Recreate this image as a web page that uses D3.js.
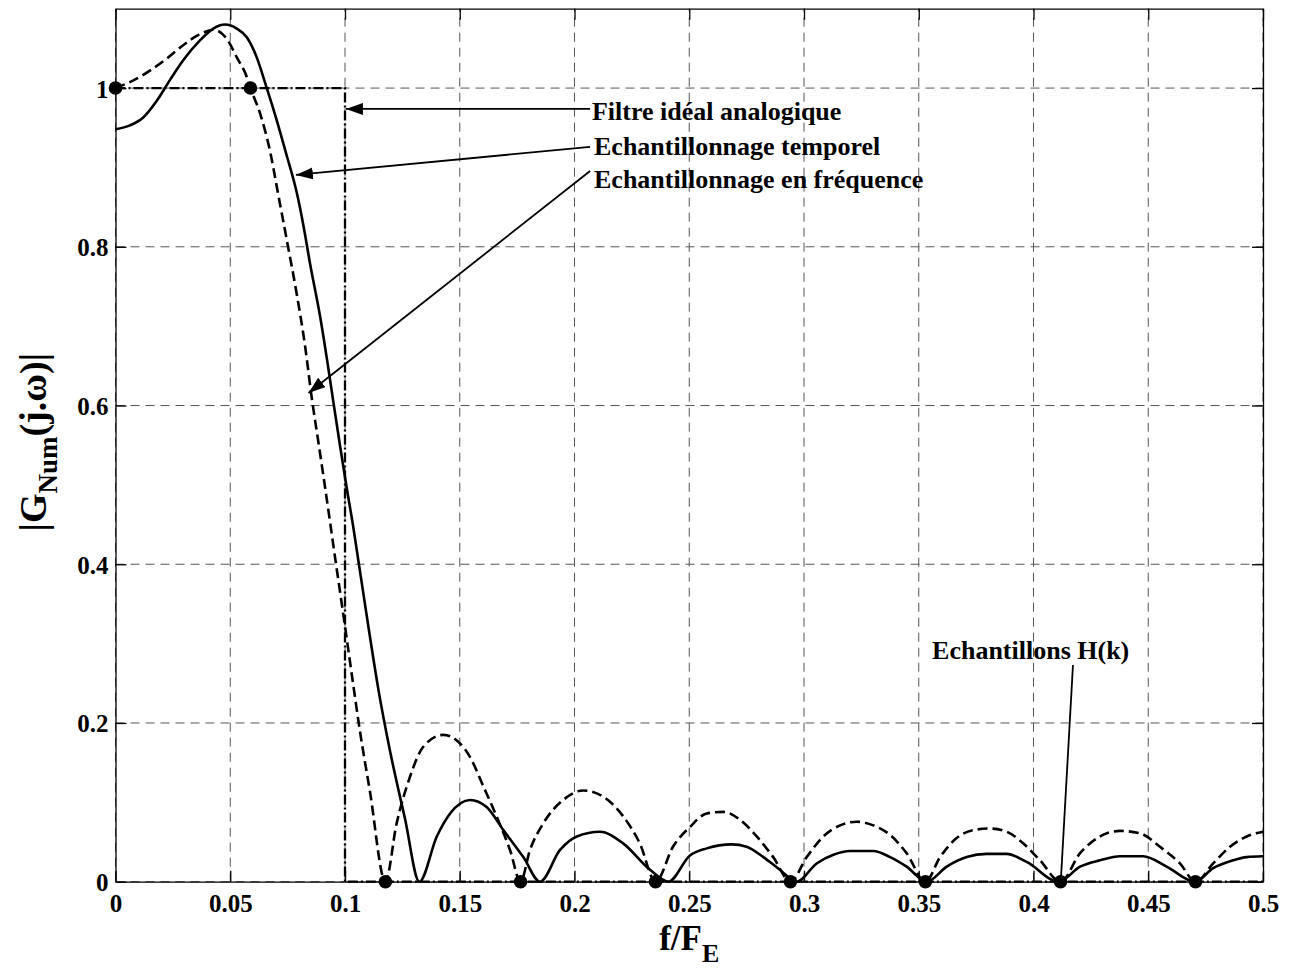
<!DOCTYPE html>
<html><head><meta charset="utf-8">
<script src="https://cdn.jsdelivr.net/npm/d3@7"></script>
<style>body{margin:0;background:#fff} svg{display:block}</style>
</head><body>
<svg id="chart" width="1294" height="972"></svg>
<script>
// ---- data ----
const xTicks = [0, 0.05, 0.1, 0.15, 0.2, 0.25, 0.3, 0.35, 0.4, 0.45, 0.5];
const yTicks = [0, 0.2, 0.4, 0.6, 0.8, 1];

// "Echantillonnage temporel" (solid)
const freqTemporel = [0, 0.0063, 0.0121, 0.0180, 0.0237, 0.0295, 0.0368, 0.0426, 0.0477, 0.0528, 0.0572, 0.0615, 0.0659, 0.0702, 0.0746, 0.0790, 0.0820, 0.0847, 0.0891, 0.0920, 0.0949, 0.0978, 0.1007, 0.1036, 0.1058, 0.1100, 0.1145, 0.1196, 0.1261, 0.1324, 0.1400, 0.1458, 0.1545, 0.1617, 0.1690, 0.1777, 0.1850, 0.1937, 0.2010, 0.2111, 0.2213, 0.2329, 0.2409, 0.2503, 0.2576, 0.2685, 0.2750, 0.2823, 0.2895, 0.2968, 0.3055, 0.3128, 0.3200, 0.3302, 0.3375, 0.3447, 0.3535, 0.3622, 0.3709, 0.3796, 0.3883, 0.3970, 0.4110, 0.4203, 0.4290, 0.4377, 0.4478, 0.4580, 0.4704, 0.4783, 0.4870, 0.4929, 0.5000];
const gainTemporel = [0.948, 0.953, 0.963, 0.984, 1.010, 1.035, 1.060, 1.075, 1.080, 1.075, 1.064, 1.039, 1.000, 0.960, 0.915, 0.868, 0.825, 0.780, 0.713, 0.661, 0.605, 0.550, 0.497, 0.447, 0.405, 0.325, 0.243, 0.165, 0.080, 0, 0.057, 0.086, 0.103, 0.094, 0.065, 0.031, 0, 0.040, 0.057, 0.063, 0.048, 0.015, 0, 0.033, 0.042, 0.047, 0.044, 0.031, 0.015, 0, 0.023, 0.034, 0.0387, 0.0387, 0.031, 0.019, 0, 0.019, 0.031, 0.035, 0.035, 0.025, 0, 0.019, 0.027, 0.032, 0.032, 0.019, 0, 0.017, 0.027, 0.031, 0.032];

// "Echantillonnage en fréquence" (dashed)
const freqFrequence = [0, 0.0078, 0.0150, 0.0223, 0.0295, 0.0368, 0.0426, 0.0485, 0.0528, 0.0572, 0.0588, 0.0630, 0.0673, 0.0709, 0.0750, 0.0790, 0.0826, 0.0855, 0.0884, 0.0905, 0.0935, 0.0956, 0.0973, 0.0996, 0.1035, 0.1065, 0.1108, 0.1176, 0.1225, 0.1283, 0.1341, 0.1428, 0.1487, 0.1545, 0.1603, 0.1661, 0.1719, 0.1765, 0.1806, 0.1864, 0.1951, 0.2038, 0.2126, 0.2213, 0.2285, 0.2353, 0.2431, 0.2503, 0.2576, 0.2648, 0.2721, 0.2794, 0.2866, 0.2941, 0.3012, 0.3084, 0.3157, 0.3230, 0.3302, 0.3375, 0.3447, 0.3529, 0.3593, 0.3665, 0.3738, 0.3810, 0.3883, 0.3956, 0.4028, 0.4118, 0.4203, 0.4290, 0.4377, 0.4464, 0.4551, 0.4638, 0.4706, 0.4783, 0.4856, 0.4929, 0.5000];
const gainFrequence = [1.000, 1.0097, 1.022, 1.037, 1.054, 1.068, 1.0735, 1.062, 1.039, 1.014, 1.000, 0.968, 0.921, 0.866, 0.803, 0.740, 0.675, 0.610, 0.554, 0.513, 0.453, 0.410, 0.376, 0.330, 0.250, 0.190, 0.115, 0, 0.0735, 0.132, 0.170, 0.185, 0.178, 0.157, 0.120, 0.082, 0.040, 0, 0.040, 0.0735, 0.103, 0.115, 0.107, 0.082, 0.048, 0, 0.045, 0.069, 0.086, 0.088, 0.078, 0.057, 0.031, 0, 0.031, 0.057, 0.071, 0.0756, 0.071, 0.059, 0.036, 0, 0.031, 0.055, 0.065, 0.067, 0.063, 0.048, 0.027, 0, 0.036, 0.057, 0.064, 0.061, 0.044, 0.023, 0, 0.023, 0.044, 0.057, 0.063];

// "Filtre idéal analogique" (dash-dot)
const idealF = [0, 0.1, 0.1, 0.5];
const idealG = [1, 1, 0, 0];

// "Echantillons H(k)"
const sampleF = [0, 0.0588, 0.1176, 0.1765, 0.2353, 0.2941, 0.3529, 0.4118, 0.4706];
const sampleG = [1, 1, 0, 0, 0, 0, 0, 0, 0];

// annotations (data coordinates)
const annoLabels = ["Filtre idéal analogique", "Echantillonnage temporel", "Echantillonnage en fréquence"];
const annoTextPos = [[0.2076, 0.9600], [0.2085, 0.9157], [0.2085, 0.8741]];
const annoFrom = [[0.2068, 0.9737], [0.2068, 0.9259], [0.2068, 0.8955]];
const annoTo = [[0.1004, 0.9737], [0.0786, 0.8905], [0.0841, 0.6158]];
const hkLabel = "Echantillons H(k)";
const hkTextPos = [0.3558, 0.2806];
const hkFrom = [0.4172, 0.2731];
const hkTo = [0.4120, 0.0059];

// ---- drawing ----
const FONT = '"Liberation Serif", "Times New Roman", serif';
const svg = d3.select('#chart');
const x = d3.scaleLinear().domain([0, 0.5]).range([115.5, 1263]);
const y = d3.scaleLinear().domain([0, 1.1]).range([881.7, 8.7]);

svg.append('rect').attr('width', 1294).attr('height', 972).attr('fill', '#fff');

// grid
const grid = svg.append('g').attr('stroke', '#555').attr('stroke-width', 1).attr('stroke-dasharray', '9,6').attr('fill', 'none');
grid.selectAll('.vg').data(xTicks).join('line')
  .attr('x1', d => x(d)).attr('x2', d => x(d)).attr('y1', y(0)).attr('y2', y(1.1));
grid.selectAll('.hg').data(yTicks).join('line')
  .attr('y1', d => y(d)).attr('y2', d => y(d)).attr('x1', x(0)).attr('x2', x(0.5));

// axes (inward ticks on all sides)
function styleAxis(g) {
  g.selectAll('path.domain').attr('stroke', '#000').attr('stroke-width', 1.3);
  g.selectAll('.tick line').attr('stroke', '#000').attr('stroke-width', 1.3);
  g.selectAll('text').attr('font-family', FONT).attr('font-weight', 'bold').attr('font-size', 25).attr('fill', '#000');
  g.attr('font-family', null).attr('font-size', null);
}
const gB = svg.append('g').attr('transform', `translate(0,${y(0)})`)
  .call(d3.axisBottom(x).tickValues(xTicks).tickSize(-11).tickSizeOuter(0).tickFormat(d => String(d)));
styleAxis(gB);
gB.selectAll('text').attr('dy', 0).attr('y', 30);
const gT = svg.append('g').attr('transform', `translate(0,${y(1.1)})`)
  .call(d3.axisTop(x).tickValues(xTicks).tickSize(-11).tickSizeOuter(0).tickFormat(''));
styleAxis(gT);
const gL = svg.append('g').attr('transform', `translate(${x(0)},0)`)
  .call(d3.axisLeft(y).tickValues(yTicks).tickSize(-11).tickSizeOuter(0).tickFormat(d => String(d)));
styleAxis(gL);
gL.selectAll('text').attr('dy', 0).attr('y', 9).attr('x', -7);
const gR = svg.append('g').attr('transform', `translate(${x(0.5)},0)`)
  .call(d3.axisRight(y).tickValues(yTicks).tickSize(-11).tickSizeOuter(0).tickFormat(''));
styleAxis(gR);

// series
const lineLin = d3.line().x(d => x(d[0])).y(d => y(d[1]));
const lineSmooth = d3.line().x(d => x(d[0])).y(d => y(d[1])).curve(d3.curveMonotoneX);

svg.append('path').datum(d3.zip(idealF, idealG)).attr('d', lineLin)
  .attr('fill', 'none').attr('stroke', '#000').attr('stroke-width', 2.3).attr('stroke-dasharray', '10,3,2,3');
svg.append('path').datum(d3.zip(freqFrequence, gainFrequence)).attr('d', lineSmooth)
  .attr('fill', 'none').attr('stroke', '#000').attr('stroke-width', 2.6).attr('stroke-dasharray', '10,5');
svg.append('path').datum(d3.zip(freqTemporel, gainTemporel)).attr('d', lineSmooth)
  .attr('fill', 'none').attr('stroke', '#000').attr('stroke-width', 2.6);
svg.selectAll('.dot').data(d3.zip(sampleF, sampleG)).join('circle')
  .attr('cx', d => x(d[0])).attr('cy', d => y(d[1])).attr('r', 6.8).attr('fill', '#000');

// arrows
const defs = svg.append('defs');
defs.append('marker').attr('id', 'arr').attr('viewBox', '0 -6 17 12').attr('refX', 17).attr('refY', 0)
  .attr('markerWidth', 17).attr('markerHeight', 12).attr('markerUnits', 'userSpaceOnUse').attr('orient', 'auto')
  .append('path').attr('d', 'M0,-6L17,0L0,6Z').attr('fill', '#000');
annoLabels.forEach((lab, i) => {
  svg.append('line').attr('x1', x(annoFrom[i][0])).attr('y1', y(annoFrom[i][1]))
    .attr('x2', x(annoTo[i][0])).attr('y2', y(annoTo[i][1]))
    .attr('stroke', '#000').attr('stroke-width', 1.8).attr('marker-end', 'url(#arr)');
  svg.append('text').attr('x', x(annoTextPos[i][0])).attr('y', y(annoTextPos[i][1]))
    .attr('font-family', FONT).attr('font-weight', 'bold').attr('font-size', 26).text(lab);
});
svg.append('line').attr('x1', x(hkFrom[0])).attr('y1', y(hkFrom[1])).attr('x2', x(hkTo[0])).attr('y2', y(hkTo[1]))
  .attr('stroke', '#000').attr('stroke-width', 1.8);
svg.append('text').attr('x', x(hkTextPos[0])).attr('y', y(hkTextPos[1]))
  .attr('font-family', FONT).attr('font-weight', 'bold').attr('font-size', 26).text(hkLabel);

// axis titles
const xt = svg.append('text').attr('x', (x(0) + x(0.5)) / 2).attr('y', 950).attr('text-anchor', 'middle')
  .attr('font-family', FONT).attr('font-weight', 'bold').attr('font-size', 35);
xt.append('tspan').text('f/F');
xt.append('tspan').attr('font-size', 26).attr('dy', 12).text('E');

const yt = svg.append('text').attr('transform', `translate(46,${(y(0) + y(1.1)) / 2 - 3}) rotate(-90)`)
  .attr('text-anchor', 'middle').attr('font-family', FONT).attr('font-weight', 'bold').attr('font-size', 38);
yt.append('tspan').text('|G');
yt.append('tspan').attr('font-size', 27).attr('dy', 11).text('Num');
yt.append('tspan').attr('dy', -11).text('(j.ω)|');
</script>
</body></html>
